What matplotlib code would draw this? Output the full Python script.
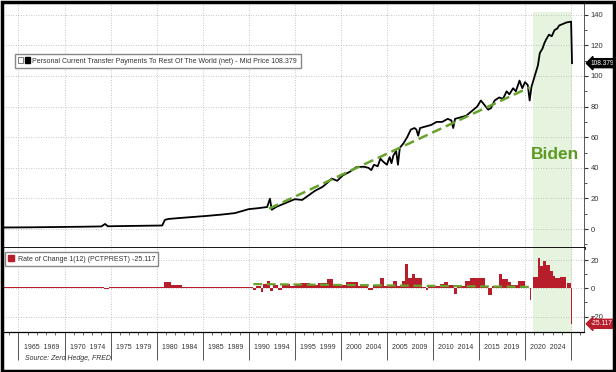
import matplotlib.pyplot as plt
from matplotlib.patches import Rectangle, Patch
from matplotlib.legend_handler import HandlerTuple
from matplotlib.transforms import blended_transform_factory

plt.rcParams['font.family'] = ['Liberation Sans', 'DejaVu Sans']

# Personal current transfer payments to rest of world (net)
pay_year = [1963.3, 1966, 1969, 1972, 1974.0, 1974.4, 1974.7, 1977, 1980.6, 1980.9,
            1981.3, 1982.5, 1984, 1985.5, 1987, 1988.5, 1990, 1991, 1992.0, 1992.3,
            1992.5, 1993, 1994, 1995, 1995.8, 1996.5, 1997.2, 1998, 1998.5, 1999,
            1999.6, 2000.2, 2001, 2001.7, 2002.5, 2003.0, 2003.3, 2003.6, 2004.0, 2004.3,
            2004.6, 2005.0, 2005.3, 2005.5, 2005.7, 2006.0, 2006.2, 2006.4, 2006.8, 2007.2,
            2007.6, 2008.0, 2008.2, 2008.4, 2008.6, 2009.2, 2009.8, 2010.4, 2011.0, 2011.6,
            2012.0, 2012.2, 2012.4, 2013.0, 2013.6, 2014.2, 2014.8, 2015.2, 2015.6, 2016.0,
            2016.3, 2016.7, 2017.2, 2017.6, 2018.0, 2018.3, 2018.7, 2019.0, 2019.4, 2019.7,
            2020.0, 2020.3, 2020.5, 2020.7, 2020.9, 2021.1, 2021.4, 2021.6, 2021.9, 2022.1,
            2022.3, 2022.6, 2022.9, 2023.2, 2023.5, 2023.7, 2024.1, 2024.5, 2025.0, 2025.1]
pay_value = [1.0, 1.1, 1.3, 1.5, 1.7, 3.3, 1.8, 2.0, 2.3, 6.0,
             6.6, 7.2, 7.9, 8.6, 9.4, 10.4, 13.0, 13.6, 14.4, 19.8,
             12.6, 14.5, 17.0, 19.5, 19.0, 22.0, 25.0, 27.5, 30.0, 33.0,
             31.5, 35.0, 37.5, 40.5, 40.7, 40.0, 38.5, 42.0, 41.0, 46.0,
             44.0, 42.0, 47.0, 43.0, 48.0, 51.0, 42.0, 53.0, 56.0, 60.0,
             65.0, 66.0, 65.0, 61.0, 66.0, 67.0, 68.0, 70.0, 70.0, 72.0,
             71.0, 66.0, 72.0, 73.0, 74.0, 77.0, 80.0, 84.0, 81.0, 78.0,
             79.0, 84.0, 86.0, 85.0, 90.0, 88.0, 92.0, 90.0, 97.0, 92.0,
             96.0, 94.0, 84.0, 93.0, 97.0, 101.0, 107.0, 115.0, 118.0, 121.5,
             124.0, 127.0, 126.0, 130.0, 131.0, 133.0, 134.0, 135.0, 135.5, 108.379]

trend_year = [1992.2, 2020.5]
trend_value = [13.3, 92.6]

# Rate of change 1(12) histogram, as segments
roc_from = [1963.3, 1973.8, 1974.3, 1974.8, 1980.8, 1981.6, 1982.8, 1984.0, 1986.0, 1988.0,
            1990.0, 1990.5, 1990.8, 1991.3, 1991.6, 1992.0, 1992.3, 1992.6, 1993.2, 1993.6,
            1994.5, 1995.0, 1995.6, 1996.7, 1997.5, 1998.5, 1999.2, 2000.6, 2001.9, 2003.0,
            2003.5, 2004.3, 2004.7, 2005.7, 2006.1, 2006.6, 2007.0, 2007.25, 2007.7, 2008.1,
            2008.8, 2009.2, 2009.5, 2010.8, 2011.2, 2011.6, 2012.3, 2012.6, 2013.5, 2014.0,
            2015.6, 2016.0, 2016.4, 2017.2, 2017.5, 2018.2, 2018.5, 2019.2, 2019.6, 2020.0,
            2020.5, 2020.65, 2020.9, 2021.4, 2021.6, 2021.9, 2022.3, 2022.7, 2023.0, 2023.2,
            2023.8, 2024.5, 2024.95]
roc_to = roc_from[1:] + [2025.1]
roc_val = [0.6, 1.2, -0.6, 0.6, 4.2, 2.0, 0.6, 0.8, 1.0, 0.8,
           1.0, -1.2, 1.5, -2.5, 3.0, 5.5, -2.0, 2.5, -1.0, 3.0,
           1.5, 2.5, 3.5, 2.5, 3.8, 6.5, 2.0, 4.8, 1.5, -1.0,
           2.5, 7.5, 1.5, 5.5, 1.5, 5.5, 17.0, 7.0, 10.0, 7.0,
           1.0, -1.0, 1.5, 3.0, 4.5, 2.5, -4.0, 1.5, 5.0, 7.0,
           1.0, -5.0, 1.5, 10.0, 6.5, 4.5, 2.0, 5.0, 5.5, 0.5,
           -8.3, 0.5, 8.0, 21.6, 15.5, 19.5, 16.5, 12.0, 9.0, 7.0,
           8.0, 4.0, -25.117]

roc_trend_year = [1990.5, 2020.5]
roc_trend_value = [3.0, 1.0]

biden_start, biden_end = 2020.85, 2025.1
label_starts = list(range(1965, 2025, 5))

red = '#b81d2c'
green = '#67a22c'
grid_kw = dict(color='#b4b4b4', lw=0.6, ls=(0, (1, 2)))

fig = plt.figure(figsize=(6.16, 3.72), dpi=100)
ax = fig.add_axes([3 / 616, 124 / 372, 581 / 616, 245 / 372])
ax2 = fig.add_axes([3 / 616, 40 / 372, 581 / 616, 84 / 372], sharex=ax)

# top panel
ax.axvspan(biden_start, biden_end, ymin=0, ymax=(142 + 12.4) / 160.1, color='#e6f4df', lw=0, zorder=0)
ax.plot(pay_year, pay_value, color='black', lw=1.3, zorder=3)
ax.plot(trend_year, trend_value, color=green, lw=1.8, ls=(0, (4, 2)), zorder=4)
ax.text(2023.25, 49, 'Biden', color='#5d9a22', fontsize=12.5, fontweight='bold',
        ha='center', va='center', zorder=5)

ax.set_xlim(1963.32, 2026.4)
ax.set_ylim(-12.4, 147.7)
ax.yaxis.tick_right()
ax.set_yticks(range(0, 141, 20))
ax.set_yticks(range(-10, 141, 20), minor=True)
ax.set_xticks(range(1965, 2026, 5))
ax.grid(True, which='major', **grid_kw)
ax.tick_params(axis='x', bottom=False, labelbottom=False)
ax.tick_params(axis='y', which='major', length=3, width=0.8, labelsize=5.5, pad=2, colors='#333333')
ax.tick_params(axis='y', which='minor', length=2, width=0.6, colors='#333333')
for s in ['top', 'left']:
    ax.spines[s].set_visible(False)
ax.spines['bottom'].set_linewidth(2)
ax.spines['right'].set_linewidth(0.7)
ax.spines['right'].set_color('#555555')

ax.legend(handles=[(Patch(fc='white', ec='#666666', lw=0.6), Patch(fc='black', ec='black'))],
          labels=['Personal Current Transfer Payments To Rest Of The World (net) - Mid Price 108.379'],
          handler_map={tuple: HandlerTuple(ndivide=None, pad=0.2)},
          loc='upper left', bbox_to_anchor=(12 / 581, 1 - 51 / 245), borderaxespad=0,
          fontsize=5, frameon=True, fancybox=False, edgecolor='#888888', framealpha=1,
          handlelength=1.6, handleheight=0.9, handletextpad=0.4, borderpad=0.5, labelcolor='#333333')

ax.text(1.012, 108.379, '108.379', transform=ax.get_yaxis_transform(), color='white', fontsize=4.8,
        va='center', ha='left', clip_on=False,
        bbox=dict(boxstyle='larrow,pad=0.15', fc='black', ec='black'))

# lower panel
ax2.axvspan(biden_start, biden_end, color='#e6f4df', lw=0, zorder=0)
ax2.bar(roc_from, roc_val, width=[b - a for a, b in zip(roc_from, roc_to)], align='edge',
        color=red, lw=0, zorder=3)
ax2.plot(roc_trend_year, roc_trend_value, color=green, lw=1.6, ls=(0, (4, 2)), zorder=4)
ax2.set_ylim(-30.9, 28.5)
ax2.yaxis.tick_right()
ax2.set_yticks([-20, 0, 20])
ax2.set_yticks([-10, 10], minor=True)
ax2.set_xticks(range(1964, 2027), minor=True)
ax2.grid(True, which='major', **grid_kw)
ax2.tick_params(axis='y', which='major', length=3, width=0.8, labelsize=5.5, pad=2, colors='#333333')
ax2.tick_params(axis='y', which='minor', length=2, width=0.6, colors='#333333')
ax2.tick_params(axis='x', which='major', length=20, width=0.7, color='#555555', labelbottom=False)
ax2.tick_params(axis='x', which='minor', length=2.5, width=0.6, color='#555555')
for s in ['top', 'left']:
    ax2.spines[s].set_visible(False)
ax2.spines['bottom'].set_linewidth(0.9)
ax2.spines['right'].set_linewidth(0.7)
ax2.spines['right'].set_color('#555555')

ax2.legend(handles=[Patch(fc=red, ec=red)], labels=['Rate of Change 1(12) (PCTPREST) -25.117'],
           loc='upper left', bbox_to_anchor=(2 / 581, 1 - 4 / 84), borderaxespad=0,
           fontsize=5, frameon=True, fancybox=False, edgecolor='#888888', framealpha=1,
           handlelength=0.8, handleheight=0.8, handletextpad=0.5, borderpad=0.5, labelcolor='#333333')

ax2.text(1.012, -25.117, '-25.117', transform=ax2.get_yaxis_transform(), color='white', fontsize=4.8,
         va='center', ha='left', clip_on=False,
         bbox=dict(boxstyle='larrow,pad=0.15', fc=red, ec=red))

tr = blended_transform_factory(ax2.transData, ax2.transAxes)
for y0 in label_starts:
    ax2.text(y0 + 2.5, -0.18, f'{y0}  {y0 + 4}', transform=tr, ha='center', va='center',
             fontsize=5, color='#333333')

fig.text(25 / 616, 1 - 358 / 372, 'Source: Zero Hedge, FRED', style='italic', fontsize=5,
         color='#333333', va='center')

fig.patches.append(Rectangle((1.5 / 616, 1.5 / 372), 612 / 616, 369 / 372, transform=fig.transFigure,
                             fill=False, lw=2.5, ec='black', zorder=10))

fig.savefig('out.png', dpi=100)
